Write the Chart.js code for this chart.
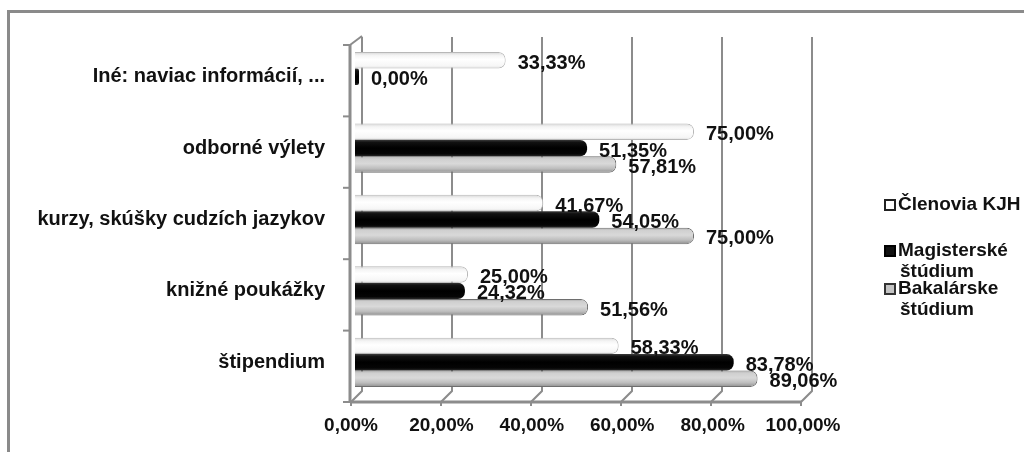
<!DOCTYPE html>
<html>
<head>
<meta charset="utf-8">
<script src="https://cdn.jsdelivr.net/npm/chart.js@4.4.1/dist/chart.umd.min.js"></script>
<style>
  html, body { margin: 0; padding: 0; background: #fff; overflow: hidden; }
  #wrap { width: 1024px; height: 452px; position: relative; }
</style>
</head>
<body>
<div id="wrap"><canvas id="c" width="1024" height="452"></canvas></div>
<script>
// Categories, top to bottom
const categories = [
  'Iné: naviac informácií, ...',
  'odborné výlety',
  'kurzy, skúšky cudzích jazykov',
  'knižné poukážky',
  'štipendium'
];
// Share of respondents (%) per group
const clenoviaKJH = [33.33, 75.00, 41.67, 25.00, 58.33];
const magisterske = [0.00, 51.35, 54.05, 24.32, 83.78];
const bakalarske  = [null, 57.81, 75.00, 51.56, 89.06];
// Legend entries (wrapped lines)
const legendLines = [
  ['Členovia KJH'],
  ['Magisterské', 'štúdium'],
  ['Bakalárske', 'štúdium']
];
// Value axis ticks (%)
const xTicks = [0, 20, 40, 60, 80, 100];

const FONT_FAMILY = '"Liberation Sans", Arial, sans-serif';
const fmt = v => v.toFixed(2).replace('.', ',') + '%';

// Vertical cylinder-like shading for each bar
function shaded(stops, fallback) {
  return (ctx) => {
    const el = ctx.element;
    if (!el || el.y == null || !el.height) return fallback;
    const top = el.y - el.height / 2, bot = el.y + el.height / 2;
    const g = ctx.chart.ctx.createLinearGradient(0, top, 0, bot);
    stops.forEach(([o, col]) => g.addColorStop(o, col));
    return g;
  };
}

// Page background and outer frame
const frame = {
  id: 'frame',
  beforeDraw(chart) {
    const c = chart.ctx;
    c.save();
    c.fillStyle = '#ffffff';
    c.fillRect(0, 0, chart.width, chart.height);
    c.fillStyle = '#8a8a8a';
    c.fillRect(7, 10, chart.width - 7, 3);
    c.fillRect(7, 10, 3, chart.height - 10);
    c.restore();
  }
};

// Back wall grid, floor edge and category axis of the pseudo-3D plot
const wall = {
  id: 'wall',
  beforeDatasetsDraw(chart) {
    const c = chart.ctx, xs = chart.scales.x, ys = chart.scales.y;
    const topY = ys.getPixelForValue(-0.5) + 4;
    const frontY = ys.getPixelForValue(categories.length - 0.5) + 4;
    const backBottom = frontY - 11;
    const axisX = xs.getPixelForValue(0) - 5;
    c.save();
    c.strokeStyle = '#8c8c8c';
    c.lineWidth = 2;
    let lastFront = axisX;
    xTicks.forEach(v => {
      const back = xs.getPixelForValue(v) + 7 - v * 0.02;
      const front = back - 11;
      lastFront = front;
      c.beginPath();
      c.moveTo(back, topY - 8);
      c.lineTo(back, backBottom);
      c.lineTo(front, frontY);
      c.lineTo(front, frontY + 4);
      c.stroke();
    });
    c.lineWidth = 3;
    c.beginPath();
    c.moveTo(axisX, frontY);
    c.lineTo(lastFront + 1, frontY);
    c.stroke();
    c.beginPath();
    c.moveTo(axisX, topY);
    c.lineTo(axisX, frontY + 1);
    c.stroke();
    c.lineWidth = 2;
    c.beginPath();
    c.moveTo(axisX, topY);
    c.lineTo(axisX + 12, topY - 9);
    c.stroke();
    for (let i = 0; i <= categories.length; i++) {
      const y = ys.getPixelForValue(i - 0.5) + 4;
      c.beginPath();
      c.moveTo(axisX - 7, y);
      c.lineTo(axisX, y);
      c.stroke();
    }
    c.restore();
  }
};

// Percentage labels to the right of each bar
const valueLabels = {
  id: 'valueLabels',
  afterDatasetsDraw(chart) {
    const c = chart.ctx;
    c.save();
    c.font = 'bold 20px ' + FONT_FAMILY;
    c.fillStyle = '#111';
    c.textAlign = 'left';
    c.textBaseline = 'middle';
    chart.data.datasets.forEach((ds, di) => {
      chart.getDatasetMeta(di).data.forEach((el, i) => {
        const v = ds.data[i];
        if (v == null) return;
        c.fillText(fmt(v), el.x + 12, el.y + 3);
      });
    });
    c.restore();
  }
};

// Legend on the right with wrapped entries
const legendBox = {
  id: 'legendBox',
  afterDraw(chart) {
    const c = chart.ctx;
    const rowsY = [205, 251, 289];
    const lineH = 20.5;
    const markX = 885, textX = 898;
    const marks = [
      { fill: '#ffffff', stroke: '#222' },
      { fill: '#111111', stroke: '#000' },
      { fill: '#c4c4c4', stroke: '#333' }
    ];
    c.save();
    c.font = 'bold 19px ' + FONT_FAMILY;
    c.fillStyle = '#111';
    c.textAlign = 'left';
    c.textBaseline = 'middle';
    legendLines.forEach((lines, k) => {
      const y0 = rowsY[k];
      c.fillStyle = marks[k].fill;
      c.fillRect(markX, y0 - 5, 10, 10);
      c.strokeStyle = marks[k].stroke;
      c.lineWidth = 2;
      c.strokeRect(markX, y0 - 5, 10, 10);
      c.fillStyle = '#111';
      lines.forEach((t, j) => c.fillText(t, j === 0 ? textX : textX + 2, y0 + j * lineH));
    });
    c.restore();
  }
};

const chart = new Chart(document.getElementById('c'), {
  type: 'bar',
  data: {
    labels: categories,
    datasets: [
      {
        label: legendLines[0].join(' '),
        data: clenoviaKJH,
        backgroundColor: shaded([[0, '#d6d6d6'], [0.2, '#f4f4f4'], [0.45, '#ffffff'], [0.85, '#f6f6f6'], [1, '#dcdcdc']], '#fafafa'),
        borderColor: '#b8b8b8',
        borderWidth: 1,
        borderSkipped: 'start',
        borderRadius: { topRight: 7, bottomRight: 7 }
      },
      {
        label: legendLines[1].join(' '),
        data: magisterske,
        backgroundColor: shaded([[0, '#3a3a3a'], [0.15, '#111'], [0.5, '#000'], [0.85, '#050505'], [1, '#2a2a2a']], '#000'),
        borderColor: '#000',
        borderWidth: 0,
        minBarLength: 4,
        borderRadius: { topRight: 7, bottomRight: 7 }
      },
      {
        label: legendLines[2].join(' '),
        data: bakalarske,
        backgroundColor: shaded([[0, '#a8a8a8'], [0.15, '#cfcfcf'], [0.45, '#d9d9d9'], [0.75, '#bdbdbd'], [1, '#8e8e8e']], '#c0c0c0'),
        borderColor: '#6e6e6e',
        borderWidth: 1,
        borderSkipped: 'start',
        borderRadius: { topRight: 7, bottomRight: 7 }
      }
    ]
  },
  options: {
    indexAxis: 'y',
    responsive: false,
    animation: false,
    events: [],
    layout: { padding: { top: 41, right: 217, bottom: 0, left: 0 } },
    datasets: { bar: { categoryPercentage: 0.69, barPercentage: 1.0 } },
    plugins: { legend: { display: false }, tooltip: { enabled: false } },
    scales: {
      x: {
        min: 0, max: 100,
        grid: { display: false },
        border: { display: false },
        afterFit: s => { s.height = 54; },
        afterBuildTicks: s => { s.ticks = xTicks.map(v => ({ value: v })); },
        ticks: {
          callback: v => fmt(v),
          color: '#111',
          padding: 8,
          labelOffset: -4,
          maxRotation: 0,
          autoSkip: false,
          font: { family: FONT_FAMILY, size: 19, weight: 'bold' }
        }
      },
      y: {
        grid: { display: false },
        border: { display: false },
        afterFit: s => { s.width = 355; },
        ticks: {
          color: '#111',
          padding: 22,
          autoSkip: false,
          font: { family: FONT_FAMILY, size: 20, weight: 'bold' }
        }
      }
    }
  },
  plugins: [frame, wall, valueLabels, legendBox]
});
// second pass so the shading gradients see final bar geometry
chart.update('none');
</script>
</body>
</html>
